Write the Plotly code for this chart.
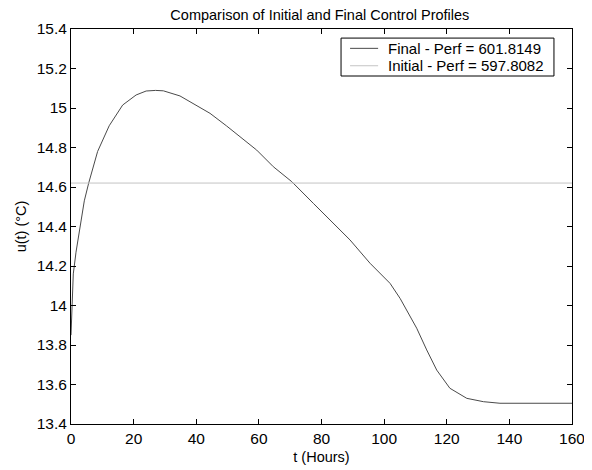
import plotly.graph_objects as go

t_final = [0, 0.73, 1.6, 2.66, 4.25, 5.65, 8.5, 12.2, 16.5, 20.8, 24, 27, 29.5, 34.8, 39, 44.4,
           49.7, 54, 59.3, 64.6, 70.5, 77.4, 83.8, 89.1, 95.5, 101.9, 105.1, 108, 110.4,
           113.6, 116.8, 121, 126.4, 131.7, 137, 160]
u_final = [13.85, 14.16, 14.27, 14.37, 14.53, 14.62, 14.78, 14.91, 15.015, 15.066, 15.086, 15.089,
           15.087, 15.061, 15.024, 14.973, 14.909, 14.855, 14.787, 14.703, 14.627, 14.517, 14.416,
           14.332, 14.214, 14.112, 14.036, 13.955, 13.885, 13.775, 13.673, 13.581, 13.530, 13.513,
           13.505, 13.505]
t_initial = [0, 160]
u_initial = [14.62, 14.62]

names = ["Final - Perf = 601.8149", "Initial - Perf = 597.8082"]
colors = ["#4a4a4a", "#c4c4c4"]

x_ticks = [0, 20, 40, 60, 80, 100, 120, 140, 160]
y_ticks = [13.4, 13.6, 13.8, 14.0, 14.2, 14.4, 14.6, 14.8, 15.0, 15.2, 15.4]
y_tick_text = ["13.4", "13.6", "13.8", "14", "14.2", "14.4", "14.6", "14.8", "15", "15.2", "15.4"]

FONT = "Liberation Sans, Arial, sans-serif"
FS = 15.5

fig = go.Figure()
fig.add_trace(go.Scatter(x=t_final, y=u_final, mode="lines", name=names[0],
                         line=dict(color=colors[0], width=1), showlegend=False))
fig.add_trace(go.Scatter(x=t_initial, y=u_initial, mode="lines", name=names[1],
                         line=dict(color=colors[1], width=1), showlegend=False))

axis_common = dict(showline=True, linecolor="black", linewidth=1, mirror="ticks",
                   ticks="inside", ticklen=5, tickcolor="black", tickwidth=1,
                   showgrid=False, zeroline=False, automargin=False,
                   tickfont=dict(family=FONT, size=FS, color="black"))

fig.update_xaxes(range=[0, 160], tickvals=x_ticks,
                 title=dict(text="t (Hours)", font=dict(family=FONT, size=FS - 1, color="black"), standoff=6),
                 **axis_common)
fig.update_yaxes(range=[13.4, 15.4], tickvals=y_ticks, ticktext=y_tick_text,
                 title=dict(text="u(t) (°C)", font=dict(family=FONT, size=FS - 1, color="black"), standoff=6),
                 **axis_common)

# Legend box (MATLAB style) drawn in paper coordinates
box = dict(x0=0.539, x1=0.964, y0=0.881, y1=0.977)
rows_y = [0.951, 0.907]
shapes = [dict(type="rect", xref="paper", yref="paper", line=dict(color="black", width=1),
               fillcolor="white", **box)]
annotations = []
for name, col, ry in zip(names, colors, rows_y):
    shapes.append(dict(type="line", xref="paper", yref="paper", x0=0.557, x1=0.613, y0=ry, y1=ry,
                       line=dict(color=col, width=1)))
    annotations.append(dict(text=name, xref="paper", yref="paper", x=0.629, y=ry,
                            xanchor="left", yanchor="middle", showarrow=False,
                            font=dict(family=FONT, size=15, color="black")))

fig.update_layout(
    width=584, height=462,
    margin=dict(l=63, r=20, t=21, b=46, autoexpand=False),
    paper_bgcolor="white", plot_bgcolor="white",
    title=dict(text="Comparison of Initial and Final Control Profiles", x=0.534, xanchor="center",
               y=0.984, yanchor="middle", font=dict(family=FONT, size=FS - 1, color="black")),
    shapes=shapes, annotations=annotations,
    showlegend=False,
)

fig.write_html("out.html")
